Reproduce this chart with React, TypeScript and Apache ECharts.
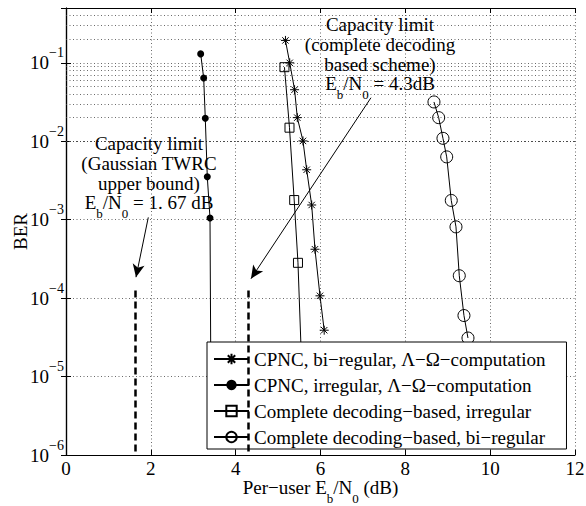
import React, { useEffect, useRef } from 'react';
import * as echarts from 'echarts';

const FONT = '"Liberation Serif", "Times New Roman", Times, serif';

const seriesNames = [
  'CPNC, bi−regular, Λ−Ω−computation',
  'CPNC, irregular, Λ−Ω−computation',
  'Complete decoding−based, irregular',
  'Complete decoding−based, bi−regular',
];

// CPNC, bi-regular (asterisks)
const cpncBiX = [5.174, 5.274, 5.389, 5.453, 5.587, 5.674, 5.792, 5.87, 5.988, 6.087];
const cpncBiY = [0.193, 0.1, 0.0454, 0.02, 0.0101, 0.00433, 0.00154, 4.2e-4, 1.07e-4, 3.9e-5];

// CPNC, irregular (filled dots); last point hidden behind legend
const cpncIrrX = [3.175, 3.246, 3.284, 3.331, 3.395, 3.42];
const cpncIrrY = [0.13, 0.064, 0.0196, 0.00352, 0.00105, 3e-6];

// Complete decoding-based, irregular (squares); last point hidden behind legend
const compIrrX = [5.15, 5.269, 5.38, 5.469, 5.6];
const compIrrY = [0.088, 0.0149, 0.00178, 2.82e-4, 3e-6];

// Complete decoding-based, bi-regular (circles)
const compBiX = [8.675, 8.786, 8.887, 8.975, 9.083, 9.194, 9.272, 9.382, 9.477];
const compBiY = [0.0317, 0.02, 0.0109, 0.00632, 0.00176, 8.1e-4, 1.93e-4, 6.0e-5, 3.1e-5];

const xMin = 0;
const xMax = 12;
const xStep = 2;
const yMin = 1e-6;
const yMax = 0.5;
const decades = [1e-6, 1e-5, 1e-4, 1e-3, 1e-2, 1e-1];
const minorMultipliers = [2, 3, 4, 5, 6, 7, 8, 9];

// capacity limits
const capGaussX = 1.64;
const capCompleteX = 4.3;
const capTopY = 1.25e-4;
const arrowGauss = [[1.94, 1.07e-3], [1.65, 1.85e-4]];
const arrowComplete = [[7.19, 0.0359], [4.361, 1.77e-4]];

const annotGauss = ['Capacity limit', '(Gaussian TWRC', 'upper bound)', ' = 1. 67 dB'];
const annotComplete = ['Capacity limit', '(complete decoding', 'based scheme)', ' = 4.3dB'];

const pairs = (xs: number[], ys: number[]) => xs.map((x, i) => [x, ys[i]]);

const STAR = 'path://M0,-10L0,10M-10,0L10,0M-7.1,-7.1L7.1,7.1M-7.1,7.1L7.1,-7.1';

export default function App() {
  const ref = useRef<HTMLDivElement>(null);
  useEffect(() => {
    if (!ref.current) return;
    const chart = echarts.init(ref.current, null, { renderer: 'svg' });

    const minorGrid: number[] = [];
    decades.forEach((d) => minorMultipliers.forEach((m) => {
      const v = d * m;
      if (v < yMax) minorGrid.push(v);
    }));

    const gridLine = { color: '#444', width: 0.8, type: [1, 2.5] as any };

    const subRich = {
      m: { fontFamily: FONT, fontSize: 19, color: '#000', lineHeight: 20 },
      e: { fontFamily: FONT, fontSize: 19, color: '#000', lineHeight: 18, verticalAlign: 'top' },
      s: { fontFamily: FONT, fontSize: 13, color: '#000', lineHeight: 27, verticalAlign: 'bottom' },
    };

    const block = (lines: string[], x: number, y: number) => ({
      type: 'text',
      x,
      y,
      z: 50,
      silent: true,
      style: {
        text: `{m|${lines[0]}}\n{m|${lines[1]}}\n{m|${lines[2]}}\n{e|E}{s|b}{e|/N}{s|0}{e|${lines[3]}}`,
        fontFamily: FONT,
        fontSize: 19,
        fill: '#000',
        align: 'center',
        verticalAlign: 'top',
        textAlign: 'center',
        textVerticalAlign: 'top',
        rich: subRich,
      },
    });

    const baseSeries = {
      type: 'line',
      xAxisIndex: 0,
      yAxisIndex: 0,
      lineStyle: { color: '#000', width: 1 },
      emphasis: { disabled: true },
      silent: true,
      showAllSymbol: true,
    };

    const option: any = {
      animation: false,
      backgroundColor: '#fff',
      grid: { left: 66, right: 11, top: 8, bottom: 51, containLabel: false, outerBoundsMode: 'none' },
      legend: {
        orient: 'vertical',
        left: 207,
        top: 342,
        padding: [7, 21, 2, 6],
        itemWidth: 35,
        itemHeight: 13,
        itemGap: 6,
        backgroundColor: '#fff',
        borderColor: '#000',
        borderWidth: 1,
        borderRadius: 0,
        selectedMode: false,
        z: 20,
        textStyle: { fontFamily: FONT, fontSize: 19, color: '#000', lineHeight: 20 },
        data: seriesNames,
      },
      xAxis: [
        {
          type: 'value',
          min: xMin,
          max: xMax,
          interval: xStep,
          position: 'bottom',
          name: '{e|Per−user E}{s|b}{e|/N}{s|0}{e| (dB)}',
          nameLocation: 'middle',
          nameGap: 23,
          nameMoveOverlap: false,
          nameTextStyle: { rich: subRich, verticalAlign: 'top' },
          axisLine: { show: true, lineStyle: { color: '#000', width: 1.2 } },
          axisTick: { show: true, inside: true, length: 5, lineStyle: { color: '#000' } },
          axisLabel: { fontFamily: FONT, fontSize: 19, color: '#000', margin: 7, lineHeight: 12 },
          splitLine: { show: true, lineStyle: gridLine },
        },
        {
          type: 'value',
          min: xMin,
          max: xMax,
          interval: xStep,
          position: 'top',
          axisLine: { show: true, lineStyle: { color: '#000', width: 1.2 } },
          axisTick: { show: true, inside: true, length: 5, lineStyle: { color: '#000' } },
          axisLabel: { show: false },
          splitLine: { show: false },
        },
      ],
      yAxis: [
        {
          type: 'log',
          logBase: 10,
          min: yMin,
          max: yMax,
          position: 'left',
          name: 'BER',
          nameLocation: 'middle',
          nameGap: 36,
          nameRotate: 90,
          nameMoveOverlap: false,
          nameTextStyle: { fontFamily: FONT, fontSize: 19, color: '#000' },
          axisLine: { show: true, lineStyle: { color: '#000', width: 1.2 } },
          axisTick: { show: true, inside: true, length: 5, lineStyle: { color: '#000' } },
          axisLabel: {
            margin: 2,
            formatter: (v: number) => {
              const e = Math.log10(v);
              const r = Math.round(e);
              if (Math.abs(e - r) > 1e-6) return '';
              return `{m|10}{sup|−${-r}}`;
            },
            rich: {
              m: { fontFamily: FONT, fontSize: 19, color: '#000', lineHeight: 34 },
              sup: { fontFamily: FONT, fontSize: 14, color: '#000', lineHeight: 14, verticalAlign: 'top' },
            },
          },
          splitLine: { show: true, lineStyle: gridLine },
        },
        {
          type: 'log',
          logBase: 10,
          min: yMin,
          max: yMax,
          position: 'right',
          axisLine: { show: true, lineStyle: { color: '#000', width: 1.2 } },
          axisTick: { show: true, inside: true, length: 5, lineStyle: { color: '#000' } },
          axisLabel: { show: false },
          splitLine: { show: false },
        },
      ],
      series: [
        {
          ...baseSeries,
          name: seriesNames[0],
          data: pairs(cpncBiX, cpncBiY),
          symbol: STAR,
          symbolSize: 9,
          itemStyle: { color: 'rgba(0,0,0,0)', borderColor: '#000', borderWidth: 1 },
          markLine: {
            silent: true,
            z: 30,
            symbol: 'none',
            label: { show: false },
            emphasis: { disabled: true },
            animation: false,
            data: [
              [
                { coord: [capGaussX, capTopY], lineStyle: { color: '#000', width: 2.5, type: [7, 4] } },
                { coord: [capGaussX, yMin] },
              ],
              [
                { coord: [capCompleteX, capTopY], lineStyle: { color: '#000', width: 2.5, type: [7, 4] } },
                { coord: [capCompleteX, yMin] },
              ],
              [
                { coord: arrowGauss[0], symbol: 'none', lineStyle: { color: '#000', width: 1, type: 'solid' } },
                { coord: arrowGauss[1], symbol: 'arrow', symbolSize: [9, 13] },
              ],
              [
                { coord: arrowComplete[0], symbol: 'none', lineStyle: { color: '#000', width: 1, type: 'solid' } },
                { coord: arrowComplete[1], symbol: 'arrow', symbolSize: [9, 13] },
              ],
            ],
          },
        },
        {
          ...baseSeries,
          name: seriesNames[1],
          data: pairs(cpncIrrX, cpncIrrY),
          symbol: 'circle',
          symbolSize: 7,
          itemStyle: { color: '#000', borderColor: '#000', borderWidth: 0 },
        },
        {
          ...baseSeries,
          name: seriesNames[2],
          data: pairs(compIrrX, compIrrY),
          symbol: 'rect',
          symbolSize: 9,
          itemStyle: { color: 'rgba(0,0,0,0)', borderColor: '#000', borderWidth: 1 },
        },
        {
          ...baseSeries,
          name: seriesNames[3],
          data: pairs(compBiX, compBiY),
          symbol: 'circle',
          symbolSize: 12,
          itemStyle: { color: 'rgba(0,0,0,0)', borderColor: '#000', borderWidth: 1 },
          markLine: {
            silent: true,
            z: 1,
            symbol: 'none',
            label: { show: false },
            emphasis: { disabled: true },
            animation: false,
            lineStyle: gridLine,
            data: minorGrid.map((v) => ({ yAxis: v })),
          },
        },
      ],
      graphic: [
        block(annotGauss, 149, 133),
        block(annotComplete, 380, 14),
      ],
    };

    chart.setOption(option);
    return () => chart.dispose();
  }, []);
  return <div ref={ref} style={{ position: 'fixed', left: 0, top: 0, width: 586, height: 506 }} />;
}
